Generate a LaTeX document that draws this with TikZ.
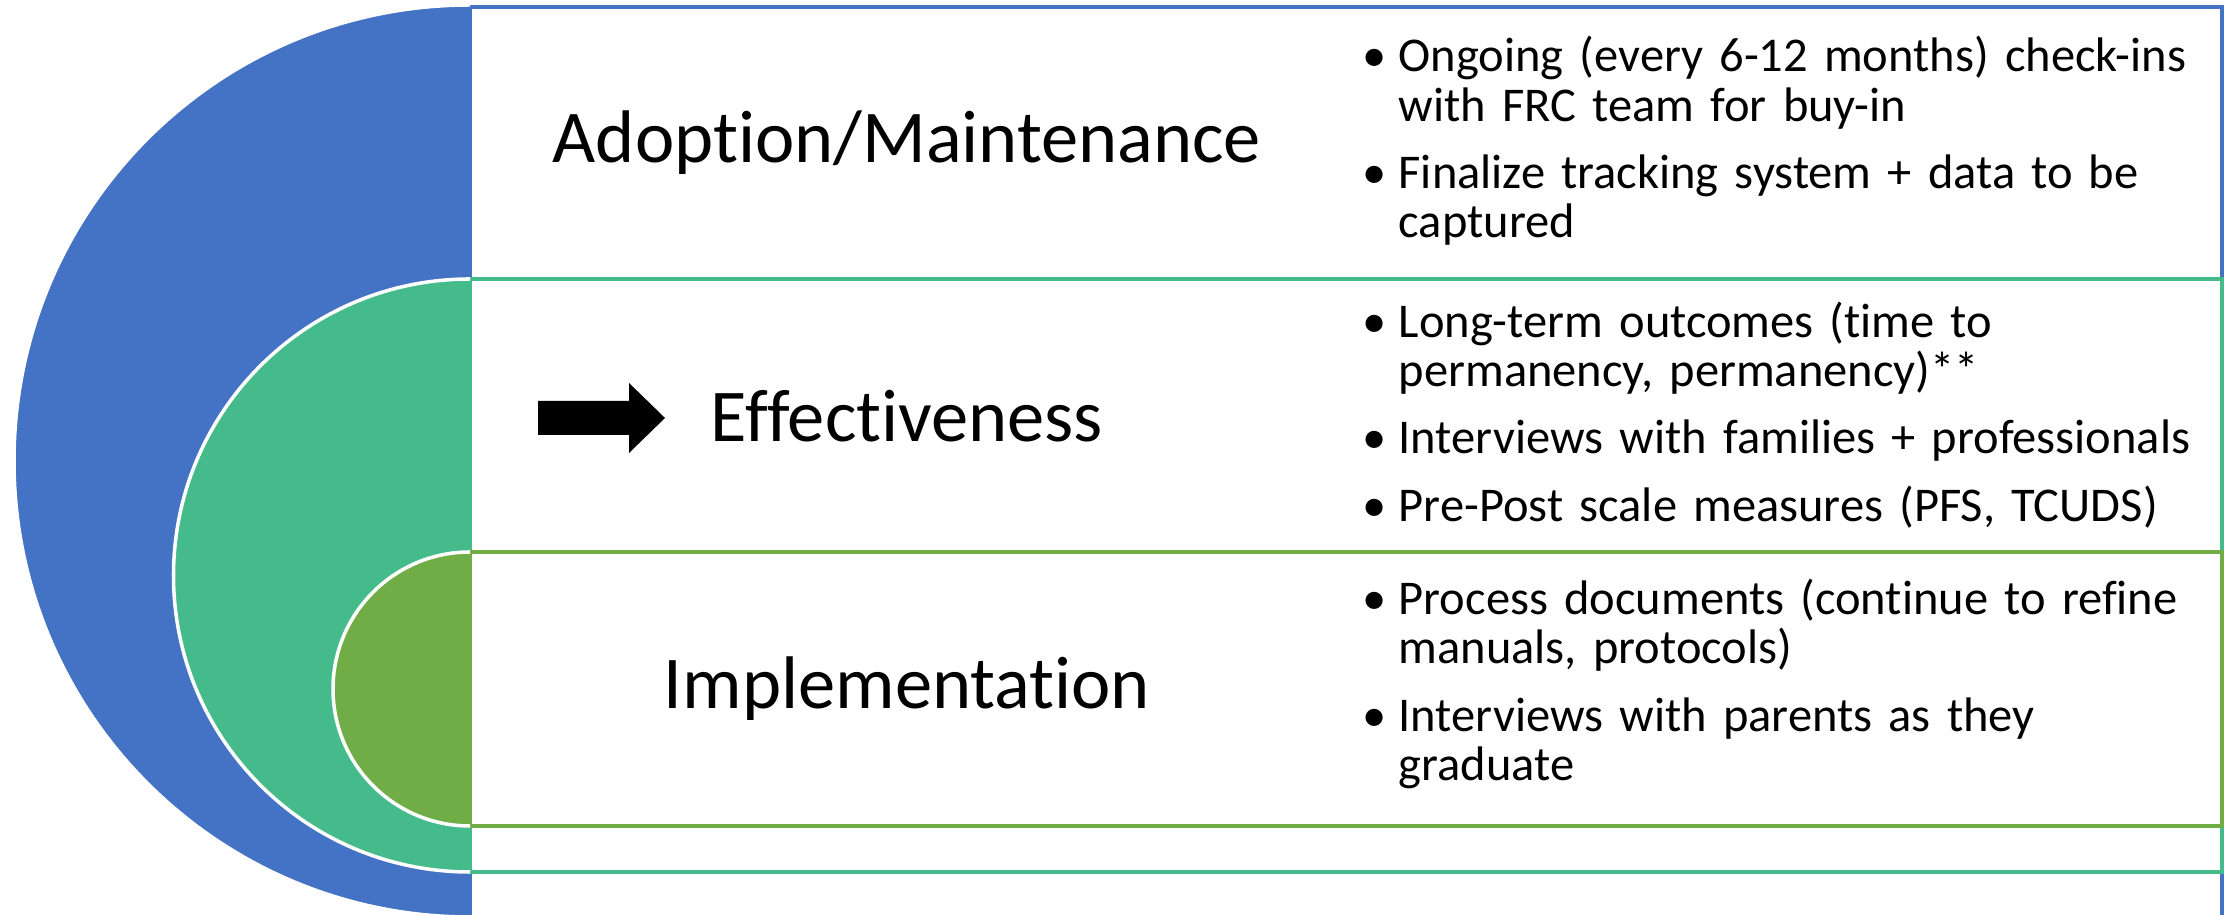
\documentclass[tikz,border=0pt]{standalone}
\usepackage{fontspec}
\setmainfont{Carlito}[Ligatures=CommonOff]
\usetikzlibrary{positioning}
\definecolor{bandblue}{HTML}{4472C4}
\definecolor{bandteal}{HTML}{45BB8C}
\definecolor{bandgreen}{HTML}{70AD47}
\newcommand{\bitem}[1]{\leftskip=3.6mm\noindent\llap{\makebox[3.6mm][l]{\textbullet}}#1\par}

\begin{document}
\begin{tikzpicture}[x=0.1mm, y=0.1mm,
    band/.style={line width=0.9pt, fill=white},
    stage/.style={font=\fontsize{21.2}{25}\selectfont},
    notes/.style={anchor=west, text width=9cm, align=left, inner sep=0pt,
      font=\fontsize{13.8}{14}\selectfont\setlength{\parskip}{5.2pt}}]
  \useasboundingbox (0,0) rectangle (2233,915);
  \clip (0,0) rectangle (2233,915);

  \foreach \c/\t/\b/\cy/\r in {bandblue/908/-20/454/456,
                               bandteal/636/43/339.5/296.5,
                               bandgreen/363/89/226/137}{
    \draw [band, draw=\c] (470,\b) rectangle (2222,\t);
    \fill [\c] (470,\cy) ++(0,\r) arc [start angle=90, end angle=270, radius=\r] -- cycle;
    \draw [white, line width=1pt] (470,\cy) ++(0,\r) arc [start angle=90, end angle=270, radius=\r];
    };

  \node [stage] (adopt) at (907,772) {Adoption/Maintenance};
  \node [stage] (effect) at (907,499) {Effectiveness};
  \node [stage] (impl) at (907,226) {Implementation};

  \coordinate (arr) at (538,497);
  \fill [black] (arr) ++(0,17) -- ++(91,0) -- ++(0,18) -- ++(36,-35)
    -- ++(-36,-35) -- ++(0,18) -- ++(-91,0) -- cycle;

  \node [notes] (adoptnotes) at (1362,774) {%
    \bitem{Ongoing (every 6-12 months) check-ins\\with FRC team for buy-in}
    \bitem{Finalize tracking system + data to be\\captured}};
  \node [notes] (effectnotes) at (1362,500) {%
    \bitem{Long-term outcomes (time to\\permanency, permanency)**}
    \bitem{Interviews with families + professionals}
    \bitem{Pre-Post scale measures (PFS, TCUDS)}};
  \node [notes] (implnotes) at (1362,231) {%
    \bitem{Process documents (continue to refine\\manuals, protocols)}
    \bitem{Interviews with parents as they\\graduate}};
\end{tikzpicture}
\end{document}
